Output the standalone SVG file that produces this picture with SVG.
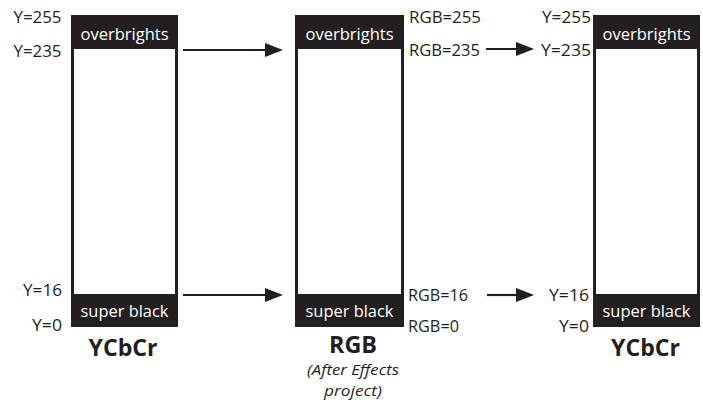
<svg xmlns="http://www.w3.org/2000/svg" width="703" height="402" viewBox="0 0 703 402">
  <style>
    .frame { fill: #ffffff; stroke: #231f20; stroke-width: 3; }
    .band { fill: #231f20; }
    .band-text { font-family: "Open Sans", "Noto Sans", sans-serif; font-size: 17px; fill: #ffffff; text-anchor: middle; }
    .lbl { font-family: "Open Sans", "Noto Sans", sans-serif; font-size: 16.5px; fill: #231f20; }
    .end { text-anchor: end; }
    .title { font-family: "Open Sans", "Noto Sans", sans-serif; font-size: 24px; font-weight: bold; fill: #231f20; text-anchor: middle; }
    .note { font-family: "Open Sans", "Noto Sans", sans-serif; font-size: 15px; font-style: italic; fill: #231f20; text-anchor: middle; }
    .conn { stroke: #231f20; stroke-width: 2.2; fill: none; }
    .head { fill: #231f20; }
  </style>

  <!-- Source: YCbCr range -->
  <g id="ycbcr-in">
    <rect class="frame" x="72.5" y="16.5" width="104" height="309"/>
    <rect class="band" x="71" y="15" width="107" height="34"/>
    <rect class="band" x="71" y="294" width="107" height="33"/>
    <text class="band-text" x="124.5" y="40" textLength="88" lengthAdjust="spacingAndGlyphs">overbrights</text>
    <text class="band-text" x="124.5" y="317" textLength="88" lengthAdjust="spacingAndGlyphs">super black</text>
    <text class="lbl end" x="61.5" y="23" textLength="48" lengthAdjust="spacingAndGlyphs">Y=255</text>
    <text class="lbl end" x="61.5" y="57" textLength="48" lengthAdjust="spacingAndGlyphs">Y=235</text>
    <text class="lbl end" x="62" y="296" textLength="39" lengthAdjust="spacingAndGlyphs">Y=16</text>
    <text class="lbl end" x="62" y="331" textLength="30" lengthAdjust="spacingAndGlyphs">Y=0</text>
    <text class="title" x="123" y="356" textLength="69" lengthAdjust="spacingAndGlyphs">YCbCr</text>
  </g>

  <!-- Working space: RGB project -->
  <g id="rgb-project">
    <rect class="frame" x="296.5" y="16.5" width="106" height="309"/>
    <rect class="band" x="295" y="15" width="109" height="34"/>
    <rect class="band" x="295" y="294" width="109" height="33"/>
    <text class="band-text" x="349.5" y="40" textLength="88" lengthAdjust="spacingAndGlyphs">overbrights</text>
    <text class="band-text" x="349.5" y="317" textLength="88" lengthAdjust="spacingAndGlyphs">super black</text>
    <text class="lbl" x="409" y="23" textLength="72" lengthAdjust="spacingAndGlyphs">RGB=255</text>
    <text class="lbl" x="409" y="56" textLength="71" lengthAdjust="spacingAndGlyphs">RGB=235</text>
    <text class="lbl" x="408" y="301" textLength="60" lengthAdjust="spacingAndGlyphs">RGB=16</text>
    <text class="lbl" x="408" y="332" textLength="51" lengthAdjust="spacingAndGlyphs">RGB=0</text>
    <text class="title" x="353" y="353" textLength="48" lengthAdjust="spacingAndGlyphs">RGB</text>
    <text class="note" x="353" y="375" textLength="92" lengthAdjust="spacingAndGlyphs">(After Effects</text>
    <text class="note" x="353" y="396" textLength="58" lengthAdjust="spacingAndGlyphs">project)</text>
  </g>

  <!-- Output: YCbCr range -->
  <g id="ycbcr-out">
    <rect class="frame" x="594.5" y="16.5" width="104" height="309"/>
    <rect class="band" x="593" y="15" width="107" height="34"/>
    <rect class="band" x="593" y="294" width="107" height="33"/>
    <text class="band-text" x="646.5" y="40" textLength="88" lengthAdjust="spacingAndGlyphs">overbrights</text>
    <text class="band-text" x="646.5" y="317" textLength="88" lengthAdjust="spacingAndGlyphs">super black</text>
    <text class="lbl end" x="591" y="23" textLength="49" lengthAdjust="spacingAndGlyphs">Y=255</text>
    <text class="lbl end" x="591" y="56" textLength="50" lengthAdjust="spacingAndGlyphs">Y=235</text>
    <text class="lbl end" x="589" y="301" textLength="40" lengthAdjust="spacingAndGlyphs">Y=16</text>
    <text class="lbl end" x="589" y="332" textLength="30" lengthAdjust="spacingAndGlyphs">Y=0</text>
    <text class="title" x="645.5" y="356" textLength="69" lengthAdjust="spacingAndGlyphs">YCbCr</text>
  </g>

  <!-- Mapping arrows -->
  <g id="connectors">
    <line class="conn" x1="183" y1="50" x2="268" y2="50"/>
    <polygon class="head" points="265,43 283,50 265,57"/>
    <line class="conn" x1="183" y1="295" x2="268" y2="295"/>
    <polygon class="head" points="265,288 283,295 265,302"/>
    <line class="conn" x1="486" y1="49" x2="519" y2="49"/>
    <polygon class="head" points="516,42 534,49 516,56"/>
    <line class="conn" x1="487" y1="295" x2="519" y2="295"/>
    <polygon class="head" points="516,288 534,295 516,302"/>
  </g>
</svg>
